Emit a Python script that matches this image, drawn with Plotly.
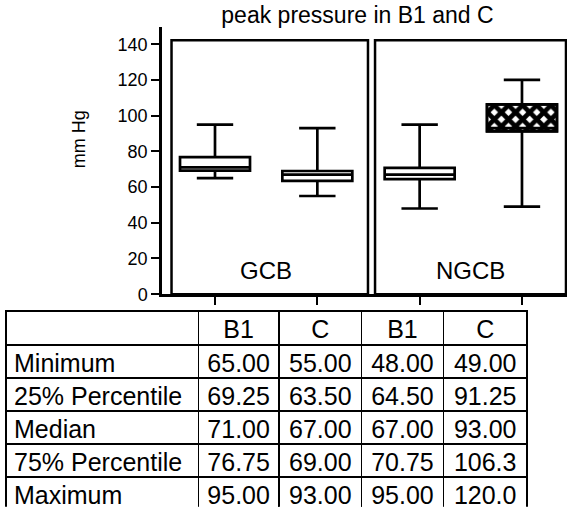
import plotly.graph_objects as go

# ---- data ----
groups = ["GCB", "NGCB"]
series = ["B1", "C", "B1", "C"]
categories = ["GCB B1", "GCB C", "NGCB B1", "NGCB C"]
minimum = [65.00, 55.00, 48.00, 49.00]
q1 = [69.25, 63.50, 64.50, 91.25]
median = [71.00, 67.00, 67.00, 93.00]
q3 = [76.75, 69.00, 70.75, 106.3]
maximum = [95.00, 93.00, 95.00, 120.0]
row_labels = ["Minimum", "25% Percentile", "Median", "75% Percentile", "Maximum"]
y_ticks = [0, 20, 40, 60, 80, 100, 120, 140]

FONT = "Arial, Liberation Sans, sans-serif"
BOXW = 0.684
W, H = 569, 517

fig = go.Figure()

# hatched box (NGCB C) drawn as a patterned bar underneath the box outline
hatched = [3]
fig.add_trace(go.Bar(
    x=[categories[i] for i in hatched],
    y=[q3[i] - q1[i] for i in hatched],
    base=[q1[i] for i in hatched],
    width=BOXW,
    marker=dict(color="white",
                line=dict(color="black", width=2.5),
                pattern=dict(shape="x", fgcolor="black", bgcolor="white",
                             fgopacity=1, size=10, solidity=0.72)),
    showlegend=False, hoverinfo="skip",
))

fig.add_trace(go.Box(
    x=categories, q1=q1, median=median, q3=q3,
    lowerfence=minimum, upperfence=maximum,
    width=BOXW, whiskerwidth=0.52,
    fillcolor="rgba(0,0,0,0)",
    line=dict(color="black", width=2.7),
    boxpoints=False, showlegend=False,
))

# panel frames
panels = [(-0.425, 1.495), (1.564, 3.43)]
for (x0, x1) in panels:
    fig.add_shape(type="rect", xref="x", yref="y", x0=x0, x1=x1, y0=0, y1=142.2,
                  line=dict(color="black", width=2.5), fillcolor="rgba(0,0,0,0)",
                  layer="above")

# group labels
for gi, g in enumerate(groups):
    fig.add_annotation(x=2 * gi + 0.5, y=13, xref="x", yref="y", text=g,
                       showarrow=False, font=dict(size=24, color="black", family=FONT),
                       xanchor="center", yanchor="middle")

# y axis title
fig.add_annotation(x=79 / W, y=1 - 142 / H, xref="paper", yref="paper",
                   text="mm Hg", textangle=-90, showarrow=False,
                   font=dict(size=18, color="black", family=FONT),
                   xanchor="center", yanchor="middle")

# statistics table
def fmt(v):
    return format(v, "#.4g")

cols = [row_labels]
for i in range(len(categories)):
    cols.append([fmt(minimum[i]), fmt(q1[i]), fmt(median[i]), fmt(q3[i]), fmt(maximum[i])])

fig.add_trace(go.Table(
    domain=dict(x=[6 / W, 527 / W], y=[0, 200 / H]),
    columnwidth=[193, 81, 83, 82, 84],
    header=dict(values=[""] + series, height=34,
                align=["left"] + ["center"] * 4,
                line=dict(color="black", width=1.5), fill=dict(color="white"),
                font=dict(size=25, color="black", family=FONT)),
    cells=dict(values=cols, height=33,
               align=["left"] + ["center"] * 4,
               line=dict(color="black", width=1.5), fill=dict(color="white"),
               font=dict(size=25, color="black", family=FONT)),
))

fig.update_layout(
    width=W, height=H,
    margin=dict(l=0, r=0, t=0, b=0),
    paper_bgcolor="white", plot_bgcolor="white",
    boxmode="overlay", barmode="overlay",
    showlegend=False,
    title=dict(text="peak pressure in B1 and C", x=357.5 / W, xanchor="center",
               xref="container", y=1 - 15 / H, yanchor="middle", yref="container",
               font=dict(size=23, color="black", family=FONT)),
    font=dict(family=FONT, color="black"),
)
fig.update_xaxes(type="category", categoryorder="array", categoryarray=categories,
                 domain=[162 / W, 567 / W],
                 range=[-0.518, 3.44], showline=True, linecolor="black", linewidth=2.5,
                 ticks="outside", ticklen=8, tickwidth=2, tickcolor="black",
                 showticklabels=False, showgrid=False, zeroline=False)
fig.update_yaxes(domain=[1 - 300 / H, 1 - 28 / H],
                 range=[0, 149.4], tickvals=y_ticks, showline=True, linecolor="black",
                 linewidth=2.5, ticks="outside", ticklen=8, tickwidth=2, tickcolor="black",
                 tickfont=dict(size=18, color="black", family=FONT),
                 showgrid=False, zeroline=False)

fig.write_html("out.html")
